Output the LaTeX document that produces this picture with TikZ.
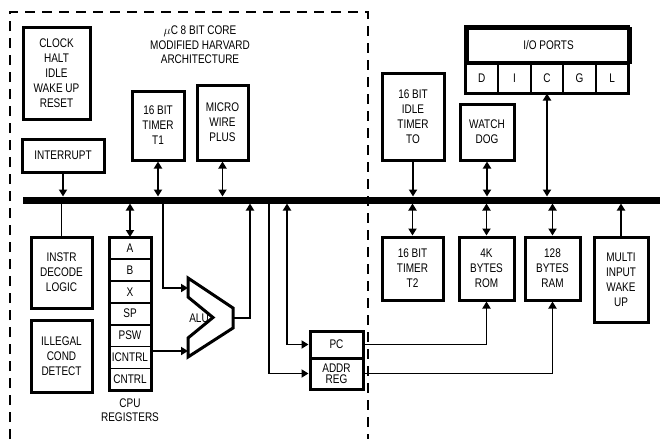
\documentclass[tikz,border=0pt]{standalone}
\usepackage{fontspec}
\setmainfont{Liberation Sans}[FakeStretch=0.8]
\usepackage{tikz}
\usetikzlibrary{shapes,arrows.meta,positioning,calc}

\tikzset{
  blk/.style={draw, line width=3pt, align=center, inner sep=0pt,
    font=\fontsize{12.5}{15}\selectfont},
  reg/.style={draw, line width=1.8pt, minimum width=42, minimum height=21.9,
    inner sep=0pt, outer sep=0pt, font=\fontsize{12.5}{15}\selectfont},
  port/.style={draw, line width=2.2pt, minimum width=32.6, minimum height=30,
    inner sep=0pt, outer sep=0pt, anchor=north west, font=\fontsize{12.5}{15}\selectfont},
  lbl/.style={align=center, inner sep=0pt, font=\fontsize{12.5}{14.5}\selectfont},
  link/.style={line width=1.8pt},
  >={Triangle[length=7pt,width=8pt]},
}

\begin{document}
\begin{tikzpicture}[x=1pt,y=-1pt]
\useasboundingbox (0,0) rectangle (660,439);
% core frame
\draw[line width=2.8pt, dash pattern=on 10pt off 7pt] (10,439) -- (10,12) -- (368,12) -- (368,439);
\node[lbl] (title) at (200,45) {$\mu$C 8 BIT CORE\\MODIFIED HARVARD\\ARCHITECTURE};

% bus
\coordinate (busL) at (23,200);
\coordinate (busR) at (660,200);
\coordinate (bustop) at (0,196.5);
\coordinate (busbot) at (0,203.5);
\draw[line width=7pt] (busL) -- (busR);

% blocks above the bus
\node[blk, minimum width=67, minimum height=92] (clock) at (56.5,73) {CLOCK\\HALT\\IDLE\\WAKE UP\\RESET};
\node[blk, minimum width=82, minimum height=33] (intr) at (63,155.5) {INTERRUPT};
\node[blk, minimum width=52, minimum height=69] (t1) at (158,125.5) {16 BIT\\TIMER\\T1};
\node[blk, minimum width=51, minimum height=75] (mw) at (222.5,122.5) {MICRO\\WIRE\\PLUS};
\node[blk, minimum width=62, minimum height=87] (idle) at (413,116.5) {16 BIT\\IDLE\\TIMER\\TO};
\node[blk, minimum width=54, minimum height=56] (wd) at (487,132) {WATCH\\DOG};
\node[blk, minimum width=163, minimum height=34] (io) at (548.5,45) {I/O PORTS};
\foreach \l [count=\i] in {D,I,C,G,L}
  \node[port] (p\i) at ($(io.south west)+(32.6*\i-32.6,0)$) {\l};
\draw[line width=3pt] (io.north west) rectangle (p5.south east);

\draw[link,->] (intr.south) -- (intr.south |- bustop);
\draw[link,<->] (t1.south) -- (t1.south |- bustop);
\draw[link,<->] (mw.south) -- (mw.south |- bustop);
\draw[link,->] (idle.south) -- (idle.south |- bustop);
\draw[link,<->] (wd.south) -- (wd.south |- bustop);
\draw[link,<->] (p3.south) -- (p3.south |- bustop);

% blocks below the bus
\node[blk, minimum width=61, minimum height=71] (instr) at (61.5,272.5) {INSTR\\DECODE\\LOGIC};
\node[blk, minimum width=61, minimum height=72] (illegal) at (61.5,356) {ILLEGAL\\COND\\DETECT};
\foreach \r [count=\i] in {A,B,X,SP,PSW,ICNTRL,CNTRL}
  \node[reg] (r\r) at (130,226.05+21.9*\i) {\r};
\draw[line width=3pt] (rA.north west) rectangle (rCNTRL.south east);
\node[lbl, below=8pt of rCNTRL] (cpulbl) {CPU\\REGISTERS};

\draw[link] (instr.north) -- (instr.north |- busbot);
\draw[link,<->] (rA.north) -- (rA.north |- busbot);

% ALU
\coordinate (alu-in1) at (188,288);
\coordinate (alu-in2) at (188,351);
\coordinate (alu-out) at (233,318);
\draw[line width=3pt, line join=miter] (188,278) -- (233,308) -- (233,328) -- (188,357)
  -- (188,338) -- (213,317.5) -- (188,297) -- cycle;
\node[lbl] (alulbl) at (199,318) {ALU};
\coordinate (alubusin) at (163,203);
\coordinate (alubusout) at (250,203.5);
\draw[link,->] (alubusin) |- (alu-in1);
\draw[link,->] (rICNTRL.east |- alu-in2) -- (alu-in2);
\draw[link,->] (alu-out) -| (alubusout);

% PC and address register
\node[blk, minimum width=53, minimum height=27] (pc) at (336.5,344.5) {PC};
\node[blk, minimum width=53, minimum height=31, font=\fontsize{12.5}{11}\selectfont] (addr) at (336.5,373.5) {ADDR\\REG};
\coordinate (pcbus) at (287,203.5);
\coordinate (addrbus) at (269,203);
\draw[link,<->] (pcbus) |- (pc.west);
\draw[link,->] (addrbus) |- (addr.west);

\node[blk, minimum width=61, minimum height=63] (t2) at (412.5,268.5) {16 BIT\\TIMER\\T2};
\node[blk, minimum width=55, minimum height=63] (rom) at (486.5,268.5) {4K\\BYTES\\ROM};
\node[blk, minimum width=55, minimum height=63] (ram) at (552.5,268.5) {128\\BYTES\\RAM};
\node[blk, minimum width=54, minimum height=85] (multi) at (621,279.5) {MULTI\\INPUT\\WAKE\\UP};

\draw[link,<->] (t2.north) -- (t2.north |- busbot);
\draw[link,<->] (rom.north) -- (rom.north |- busbot);
\draw[link,<->] (ram.north) -- (ram.north |- busbot);
\draw[link,->] (multi.north) -- (multi.north |- busbot);
\draw[link,->] (pc.east) -| (rom.south);
\draw[link,->] (addr.east) -| (ram.south);
\end{tikzpicture}
\end{document}
